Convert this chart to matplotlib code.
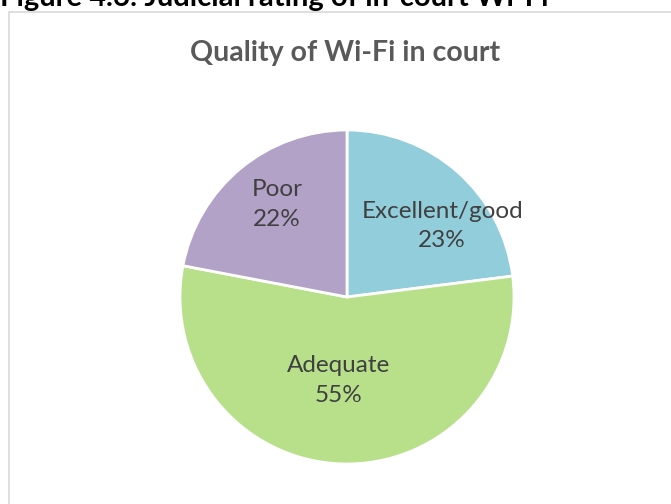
import matplotlib.pyplot as plt
from matplotlib.patches import Rectangle

plt.rcParams['font.family'] = ['Lato', 'DejaVu Sans']

# data
categories = ['Excellent/good', 'Adequate', 'Poor']
shares = [23, 55, 22]
colors = ['#92CDDC', '#B8E08B', '#B2A2C7']
# label centres in pie units (Excel places them by hand-ish)
label_xy = [(0.57, 0.425), (-0.05, -0.50), (-0.42, 0.555)]

fig = plt.figure(figsize=(6.71, 5.04), dpi=100)

# chart border, cropped at right and bottom
fig.patches.append(Rectangle((8.5 / 671, -0.05), 1.1, 1 - 12 / 504 + 0.05,
                             transform=fig.transFigure, fill=False,
                             edgecolor='#D9D9D9', linewidth=1.2))

# cut-off caption above the chart
fig.text(0.0, 1 - 6 / 504, 'Figure 4.6: Judicial rating of in-court Wi-Fi',
         fontsize=21, fontweight='bold', color='black', ha='left', va='baseline')

fig.text(345 / 671, 1 - 53 / 504, 'Quality of Wi-Fi in court', fontsize=20.5,
         fontweight='bold', color='#595959', ha='center', va='center')

ax = fig.add_axes([(347 - 167) / 671, (504 - 297 - 167) / 504, 334 / 671, 334 / 504])
ax.pie(shares, colors=colors, startangle=90, counterclock=False, radius=1,
       wedgeprops=dict(edgecolor='white', linewidth=2))
for cat, val, (x, y) in zip(categories, shares, label_xy):
    ax.text(x, y, f'{cat}\n{val}%', ha='center', va='center', fontsize=17.5,
            color='#404040', linespacing=1.5)
ax.set_xlim(-1, 1)
ax.set_ylim(-1, 1)
ax.set_aspect('equal')
ax.axis('off')

fig.savefig('out.png', dpi=100)
